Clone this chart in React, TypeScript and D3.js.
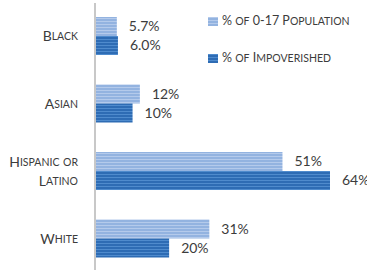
import * as d3 from "d3";
import { useEffect, useRef } from "react";

const categories = ["Black", "Asian", "Hispanic or Latino", "White"];
const categoryLines = [["Black"], ["Asian"], ["Hispanic or", "Latino"], ["White"]];
const series = ["% of 0-17 Population", "% of Impoverished"];
const populationPct = [5.7, 12, 51, 31];
const impoverishedPct = [6.0, 10, 64, 20];
const valueLabels = [
  ["5.7%", "12%", "51%", "31%"],
  ["6.0%", "10%", "64%", "20%"],
];

const W = 367;
const H = 270;
const FONT = "Lato, 'Open Sans', sans-serif";
const TEXT = "#3c3c3c";

// fake small caps: lower-case letters become smaller upper-case
function smallCaps(sel: d3.Selection<SVGTextElement, unknown, null, undefined>, str: string, big: number, small: number) {
  const runs: { t: string; s: boolean }[] = [];
  for (const ch of str) {
    const s = ch >= "a" && ch <= "z";
    const last = runs[runs.length - 1];
    if (last && last.s === s) last.t += ch;
    else runs.push({ t: ch, s });
  }
  runs.forEach(r => {
    sel.append("tspan").attr("font-size", r.s ? small : big).text(r.s ? r.t.toUpperCase() : r.t);
  });
}

export default function App() {
  const ref = useRef<SVGSVGElement>(null);

  useEffect(() => {
    if (!ref.current) return;
    const el = ref.current;
    const svg = d3.select(el);
    svg.selectAll("*").remove();

    // striped fills
    const defs = svg.append("defs");
    const fills = [
      { id: "light", base: "#93b3e0", stripe: "#b4caeb" },
      { id: "dark", base: "#2e6cb4", stripe: "#4f8bcd" },
    ];
    fills.forEach(f => {
      const p = defs
        .append("pattern")
        .attr("id", f.id)
        .attr("patternUnits", "userSpaceOnUse")
        .attr("width", 8)
        .attr("height", 3);
      p.append("rect").attr("width", 8).attr("height", 3).attr("fill", f.base);
      p.append("rect").attr("width", 8).attr("height", 1).attr("fill", f.stripe);
    });

    const x = d3.scaleLinear().domain([0, 64]).range([96, 330]);
    const y = d3.scalePoint().domain(categories).range([36, 238.5]);
    const sub = d3.scaleBand().domain(series).range([-19, 19]);

    const values = [populationPct, impoverishedPct];

    // axis line
    svg
      .append("line")
      .attr("x1", 95)
      .attr("x2", 95)
      .attr("y1", 3)
      .attr("y2", H)
      .attr("stroke", "#c8c8c8")
      .attr("stroke-width", 2);

    series.forEach((s, si) => {
      const g = svg.append("g");
      g.selectAll("rect")
        .data(categories)
        .join("rect")
        .attr("x", x(0))
        .attr("y", c => y(c)! + sub(s)!)
        .attr("width", (c, i) => x(values[si][i]) - x(0))
        .attr("height", sub.bandwidth())
        .attr("fill", `url(#${fills[si].id})`);

      g.selectAll("text")
        .data(categories)
        .join("text")
        .attr("x", (c, i) => x(values[si][i]) + 12)
        .attr("y", c => y(c)! + sub(s)! + sub.bandwidth() / 2 + 1)
        .attr("dominant-baseline", "middle")
        .attr("font-family", FONT)
        .attr("font-size", 14)
        .attr("fill", TEXT)
        .text((c, i) => valueLabels[si][i]);
    });

    // category labels
    categories.forEach((c, i) => {
      const lines = categoryLines[i];
      lines.forEach((ln, li) => {
        const t = svg
          .append("text")
          .attr("x", 78)
          .attr("y", y(c)! + 1 + (li - (lines.length - 1) / 2) * 19)
          .attr("text-anchor", "end")
          .attr("dominant-baseline", "middle")
          .attr("font-family", FONT)
          .attr("fill", TEXT);
        smallCaps(t, ln, 14, 10.5);
      });
    });

    // legend
    const legend = svg.append("g").attr("transform", "translate(208,17)");
    series.forEach((s, si) => {
      const row = legend.append("g").attr("transform", `translate(0,${si * 37})`);
      row.append("rect").attr("width", 10).attr("height", 9).attr("fill", `url(#${fills[si].id})`);
      const t = row
        .append("text")
        .attr("x", 14)
        .attr("y", 5)
        .attr("dominant-baseline", "middle")
        .attr("font-family", FONT)
        .attr("fill", TEXT);
      smallCaps(t, s, 12.5, 10.5);
    });
  }, []);

  return (
    <svg
      ref={ref}
      width={W}
      height={H}
      style={{ position: "fixed", left: 0, top: 0, display: "block", background: "#fff" }}
    />
  );
}
